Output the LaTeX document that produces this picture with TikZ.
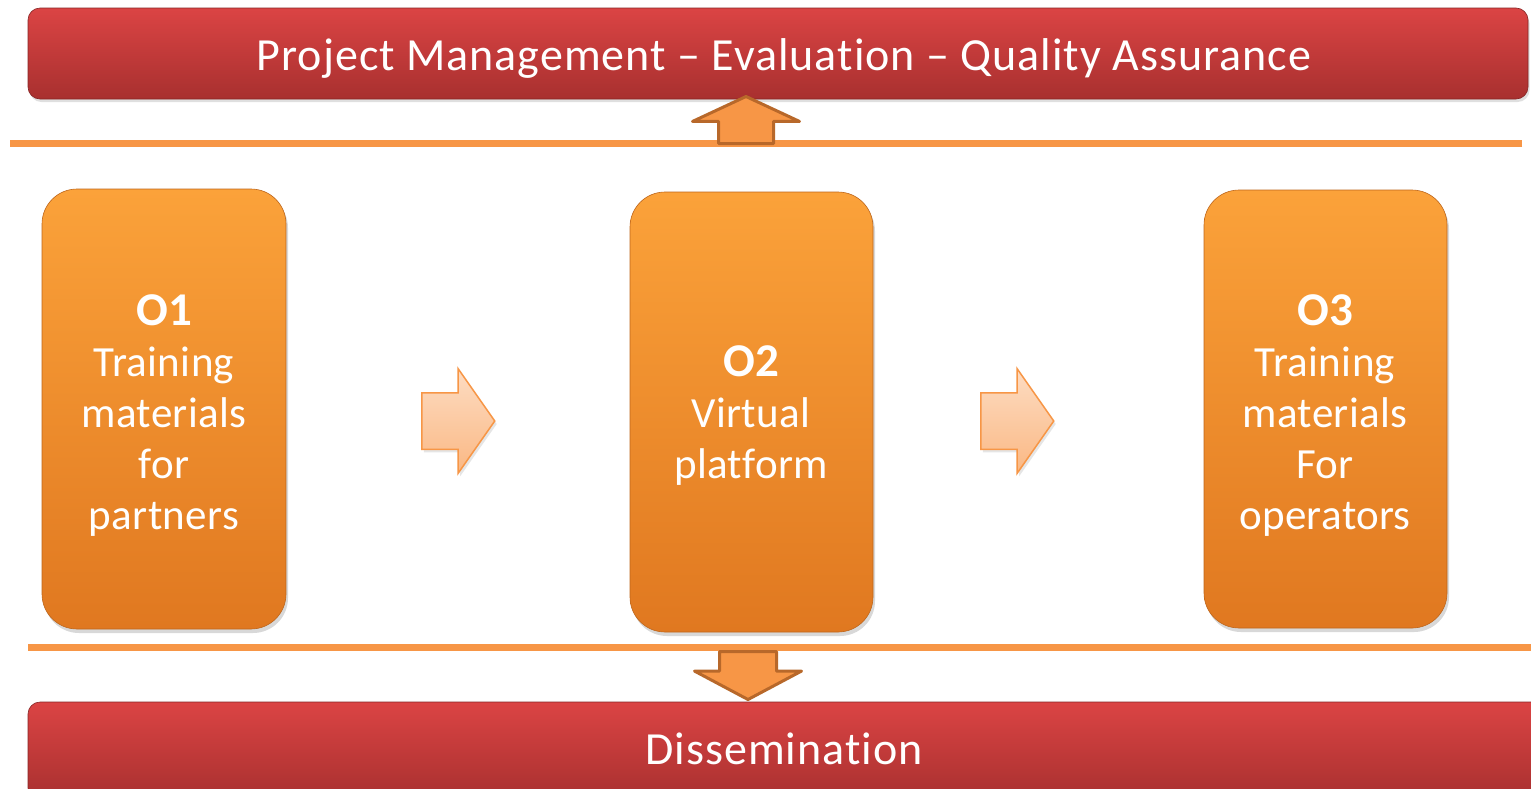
\documentclass[tikz,border=0pt]{standalone}
\usepackage{fontspec}
\setmainfont{Carlito}[Ligatures=NoCommon]
\newfontfamily\titlefont{Carlito}[Ligatures=NoCommon, LetterSpace=2.2]
\newfontfamily\boxfont{Carlito}[Ligatures=NoCommon, LetterSpace=0.8]
\usetikzlibrary{shapes.arrows,shadows,calc}
\definecolor{barTop}{HTML}{DB4444}
\definecolor{barBot}{HTML}{A8302F}
\definecolor{boxTop}{HTML}{FBA23A}
\definecolor{boxBot}{HTML}{E07820}
\definecolor{lineOr}{HTML}{F79646}
\definecolor{arrEdge}{HTML}{B8682A}
\definecolor{peachTop}{HTML}{FDDCC2}
\definecolor{peachBot}{HTML}{FAB884}
\newcommand{\otitle}[1]{{\fontsize{47}{51}\selectfont\bfseries #1}}
\tikzset{
  bar/.style={rounded corners=12pt, top color=barTop, bottom color=barBot, draw=barBot!80!black, line width=0.6pt,
    drop shadow={shadow xshift=1.5pt, shadow yshift=-3pt, opacity=0.25}},
  sepline/.style={draw=lineOr, line width=7pt,
    drop shadow={shadow xshift=1pt, shadow yshift=-3pt, opacity=0.2}},
  obox/.style={rounded corners=35pt, top color=boxTop, bottom color=boxBot, draw=boxBot!85!black, line width=0.6pt,
    drop shadow={shadow xshift=2pt, shadow yshift=-4pt, opacity=0.3}},
  otext/.style={text=white, font=\boxfont\fontsize{43}{51}\selectfont, align=center},
  ttext/.style={text=white, font=\titlefont\fontsize{46}{52}\selectfont, anchor=base},
  vert/.style={single arrow, fill=lineOr, draw=arrEdge, line width=3pt, line join=round,
    inner sep=0pt, text height=0pt, text depth=0pt, text width=0pt, anchor=tail},
  horiz/.style={single arrow, top color=peachTop, bottom color=peachBot, draw=lineOr, line width=1.5pt,
    inner xsep=0pt, inner ysep=27.5pt, text height=0pt, text depth=0pt, text width=0pt, anchor=tail,
    minimum height=73pt, single arrow head extend=24pt, single arrow tip angle=110,
    drop shadow={shadow xshift=2pt, shadow yshift=-3pt, opacity=0.2}},
}
\begin{document}
\begin{tikzpicture}[x=1pt,y=-1pt]
\useasboundingbox (0,0) rectangle (1531,788);
\fill[white] (0,0) rectangle (1531,788);
% top bar
\path[bar] (28,8) rectangle (1528,99);
\node[ttext] (pm) at (784,70) {Project Management – Evaluation – Quality Assurance};
% separator lines
\coordinate (l1a) at (10,143);
\coordinate (l1b) at (1522,143);
\draw[sepline] (l1a) -- (l1b);
\coordinate (l2a) at (28,647);
\coordinate (l2b) at (1540,647);
\draw[sepline] (l2a) -- (l2b);
% up arrow
\node[vert, rotate=90, inner ysep=26pt, minimum height=47pt, single arrow head extend=26pt, single arrow tip angle=130] (up) at (746,145) {};
% bottom bar
\path[bar] (28,702) rectangle (1545,800);
\node[ttext] (dis) at (784,764) {Dissemination};
% down arrow
\node[vert, rotate=-90, inner ysep=27pt, minimum height=48pt, single arrow head extend=25pt, single arrow tip angle=124] (down) at (748,650) {};
% boxes
\path[obox] (42,189) rectangle (286,629);
\path[obox] (630,192) rectangle (873,632);
\path[obox] (1204,190) rectangle (1447,628);
\node[otext] (o1) at (164,416) {\otitle{O1}\\Training\\materials\\for\\partners};
\node[otext] (o2) at (751,416) {\otitle{O2}\\Virtual\\platform};
\node[otext] (o3) at (1325,416) {\otitle{O3}\\Training\\materials\\For\\operators};
% right arrows
\node[horiz] (r1) at (421,421) {};
\node[horiz] (r2) at (980,421) {};
\end{tikzpicture}
\end{document}
